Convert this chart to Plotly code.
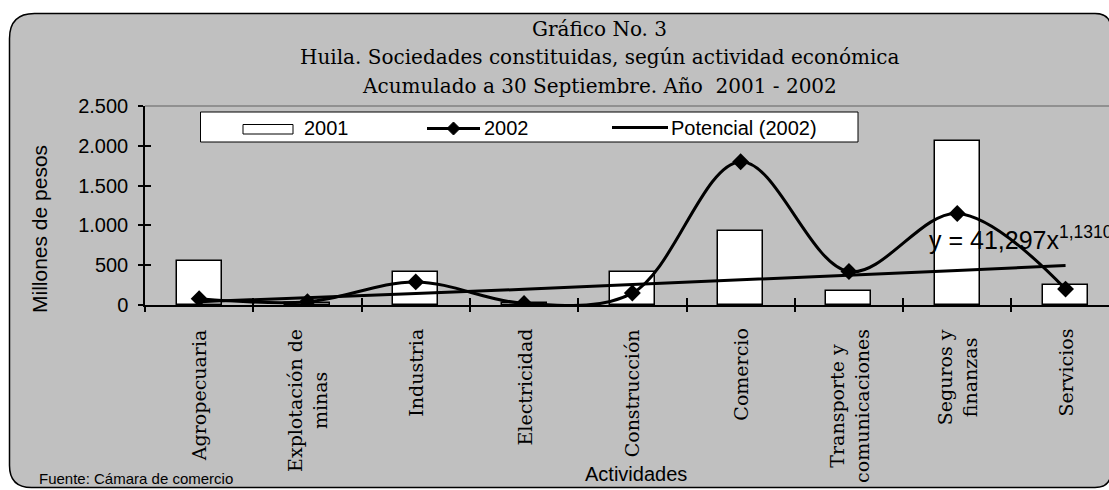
import plotly.graph_objects as go

# ---------------- data ----------------
categories = ["Agropecuaria", "Explotación de<br>minas", "Industria", "Electricidad",
              "Construcción", "Comercio", "Transporte y<br>comunicaciones",
              "Seguros y<br>finanzas", "Servicios"]
values_2001 = [550, 30, 420, 20, 420, 930, 180, 2060, 250]
values_2002 = [80, 40, 290, 20, 150, 1800, 420, 1150, 200]
trend_2002 = [41, 90, 143, 198, 255, 313, 373, 434, 496]
y_tickvals = [0, 500, 1000, 1500, 2000, 2500]
y_ticktext = ["0", "500", "1.000", "1.500", "2.000", "2.500"]
title_lines = ["Gráfico No. 3",
               "Huila. Sociedades constituidas, según actividad económica",
               "Acumulado a 30 Septiembre. Año\u00a0 2001 - 2002"]
legend_names = ["2001", "2002", "Potencial (2002)"]
equation = "y = 41,297x<sup>1,1310</sup>"

# ---------------- geometry (pixels) ----------------
W, H = 1109, 490
L, R, T, B = 145, 1109, 106, 305
CAT_PX = 108.3
x_range = [-0.5, -0.5 + (R - L) / CAT_PX]
y_range = [0, 2500]

SANS = "Liberation Sans, Arial, sans-serif"
SERIF = "DejaVu Serif, serif"


def fx(px):
    return (px - L) / (R - L)


def fy(py):
    return (B - py) / (B - T)


fig = go.Figure()
fig.add_trace(go.Bar(x=categories, y=values_2001, name=legend_names[0], width=0.415,
                     marker=dict(color="white", line=dict(color="black", width=1.5))))
fig.add_trace(go.Scatter(x=categories, y=values_2002, name=legend_names[1], mode="lines+markers",
                         line=dict(color="black", width=3, shape="spline", smoothing=1),
                         marker=dict(symbol="diamond", size=13, color="black")))
fig.add_trace(go.Scatter(x=categories, y=trend_2002, name=legend_names[2], mode="lines",
                         line=dict(color="black", width=3), xaxis="x2", yaxis="y2"))

shapes = []
# chart area (grey rounded box)
lft, top, rgt, bot = 9.5, 13.5, 1111, 487.5
rtl, rbl, rtr, rbr = 25, 22, 16, 16


def P(px, py):
    return f"{fx(px):.5f},{fy(py):.5f}"


path = (f"M{P(lft, top + rtl)} Q{P(lft, top)} {P(lft + rtl, top)} "
        f"L{P(rgt - rtr, top)} Q{P(rgt, top)} {P(rgt, top + rtr)} "
        f"L{P(rgt, bot - rbr)} Q{P(rgt, bot)} {P(rgt - rbr, bot)} "
        f"L{P(lft + rbl, bot)} Q{P(lft, bot)} {P(lft, bot - rbl)} Z")
shapes.append(dict(type="path", xref="paper", yref="paper", path=path,
                   fillcolor="#C0C0C0", line=dict(color="black", width=1.5), layer="below"))
# plot area top border
shapes.append(dict(type="line", xref="paper", yref="paper", x0=0, x1=1, y0=1, y1=1,
                   line=dict(color="#808080", width=1.5), layer="above"))
# legend box
shapes.append(dict(type="rect", xref="paper", yref="paper", x0=fx(200.5), x1=fx(858),
                   y0=fy(142), y1=fy(112), fillcolor="white",
                   line=dict(color="black", width=1), layer="above"))
# legend symbols
shapes.append(dict(type="rect", xref="paper", yref="paper", x0=fx(243), x1=fx(293),
                   y0=fy(134), y1=fy(124.5), fillcolor="white",
                   line=dict(color="black", width=1), layer="above"))
shapes.append(dict(type="line", xref="paper", yref="paper", x0=fx(427), x1=fx(480),
                   y0=fy(128.5), y1=fy(128.5), line=dict(color="black", width=3), layer="above"))
dx, dy, cx, cy = 6.5, 6.5, 453.5, 128.5
shapes.append(dict(type="path", xref="paper", yref="paper",
                   path=f"M{P(cx - dx, cy)} L{P(cx, cy - dy)} L{P(cx + dx, cy)} L{P(cx, cy + dy)} Z",
                   fillcolor="black", line=dict(color="black", width=1), layer="above"))
shapes.append(dict(type="line", xref="paper", yref="paper", x0=fx(612), x1=fx(668),
                   y0=fy(127.5), y1=fy(127.5), line=dict(color="black", width=3), layer="above"))

ann = []
for i, t in enumerate(title_lines):
    ann.append(dict(text=t, x=fx(599), y=fy([28.5, 57, 85.5][i]), xref="paper", yref="paper",
                    showarrow=False, xanchor="center", yanchor="middle",
                    font=dict(family=SERIF, size=20, color="black")))
for name, px in zip(legend_names, [302, 482, 669]):
    ann.append(dict(text=name, x=fx(px), y=fy(127.5), xref="paper", yref="paper",
                    showarrow=False, xanchor="left", yanchor="middle",
                    font=dict(family=SANS, size=20, color="black")))
for cat in categories:
    ann.append(dict(text=cat, x=cat, xref="x", y=fy(327), yref="paper",
                    showarrow=False, textangle=-90, xanchor="center", yanchor="top",
                    align="center", font=dict(family=SERIF, size=19, color="black")))
ann.append(dict(text="Millones de pesos", x=fx(39), y=fy(229), xref="paper", yref="paper",
                showarrow=False, textangle=-90, xanchor="center", yanchor="middle",
                font=dict(family=SANS, size=21, color="black")))
ann.append(dict(text="Actividades", x=fx(636), y=fy(474), xref="paper", yref="paper",
                showarrow=False, xanchor="center", yanchor="middle",
                font=dict(family=SANS, size=20, color="black")))
ann.append(dict(text="Fuente: Cámara de comercio", x=fx(37), y=fy(478), xref="paper", yref="paper",
                showarrow=False, xanchor="left", yanchor="middle",
                font=dict(family=SANS, size=15, color="black")))
ann.append(dict(text=equation, x=fx(927), y=fy(238), xref="paper", yref="paper",
                showarrow=False, xanchor="left", yanchor="middle",
                font=dict(family=SANS, size=25, color="black")))

fig.update_layout(
    width=W, height=H,
    margin=dict(l=L, r=W - R, t=T, b=H - B, pad=0),
    paper_bgcolor="white", plot_bgcolor="white",
    showlegend=False, bargap=0,
    shapes=shapes, annotations=ann,
    xaxis=dict(type="category", range=x_range, showline=True, linecolor="black", linewidth=1.5,
               ticks="outside", tickson="boundaries", ticklen=5, tickcolor="black", tickwidth=1.5,
               showticklabels=False, showgrid=False, zeroline=False, fixedrange=True),
    xaxis2=dict(type="category", range=x_range, overlaying="x", anchor="y", side="bottom",
                ticks="inside", tickson="boundaries", ticklen=7, tickcolor="black", tickwidth=1.5,
                showticklabels=False, showline=False, showgrid=False, zeroline=False),
    yaxis=dict(range=y_range, tickvals=y_tickvals, ticktext=y_ticktext, showline=True,
               linecolor="black", linewidth=1.5, ticks="outside", ticklen=5, tickcolor="black",
               tickwidth=1.5, tickfont=dict(family=SANS, size=20, color="black"),
               ticklabelstandoff=6, showgrid=False, zeroline=False),
    yaxis2=dict(range=y_range, tickvals=y_tickvals, overlaying="y", anchor="x", side="left",
                ticks="inside", ticklen=6, tickcolor="black", tickwidth=1.5,
                showticklabels=False, showline=False, showgrid=False, zeroline=False),
)

fig.write_html("out.html", config={"displayModeBar": False},
               post_script="document.body.style.margin='0px';document.body.style.overflow='hidden';")
